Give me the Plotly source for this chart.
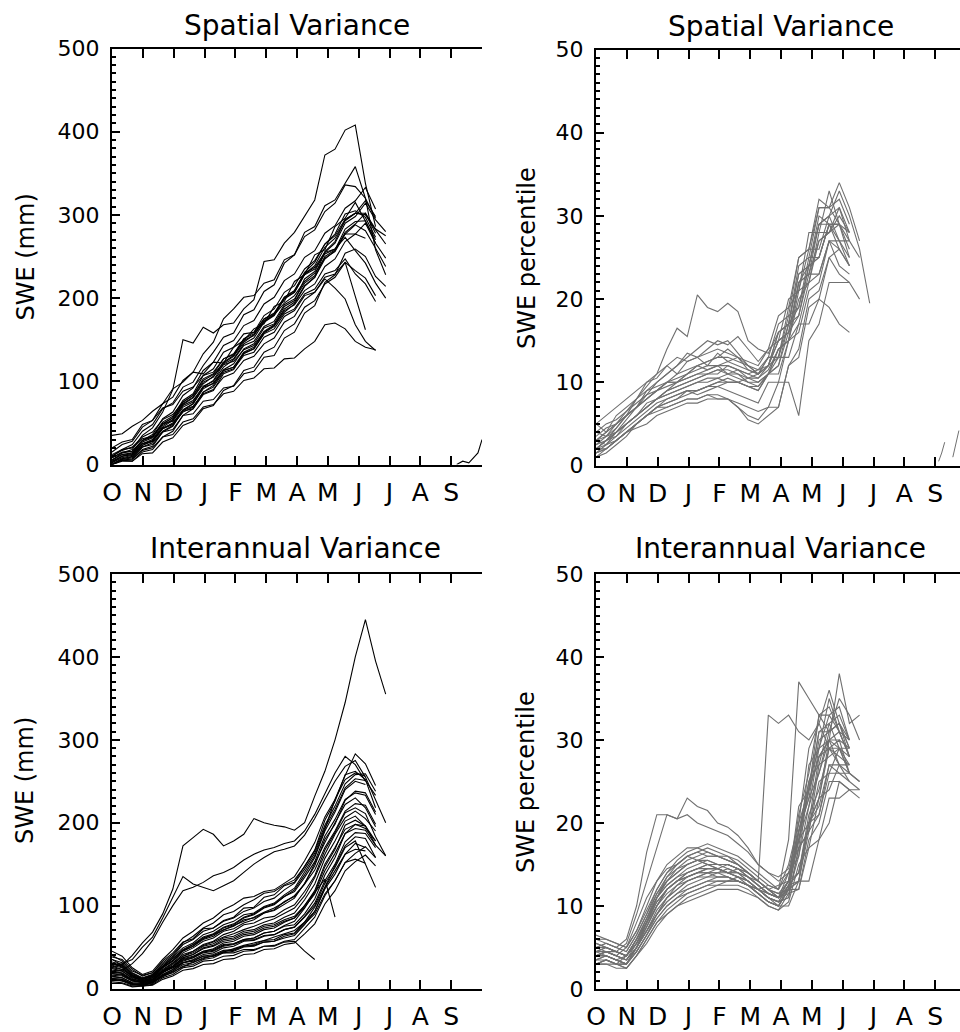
import plotly.graph_objects as go

FONT = "DejaVu Sans"
MONTHS = ["O", "N", "D", "J", "F", "M", "A", "M", "J", "J", "A", "S"]
DAYS = [0, 10, 20, 30, 40, 50, 60, 70, 80, 90, 100, 110, 120, 130, 140, 150,
        160, 170, 180, 190, 200, 210, 220, 230, 240, 250, 260, 270, 280, 290]

# ---- Top-left: spatial variance, SWE (mm) ----
SPATIAL_SWE = [
    [5, 14, 18, 35, 44, 63, 90, 150, 146, 165, 158, 168, 170, 187, 198, 244, 246, 266, 279, 299, 318, 372, 379, 402, 408, 338, 286],
    [10, 18, 24, 40, 48, 67, 74, 93, 99, 119, 135, 153, 158, 180, 186, 208, 216, 242, 252, 279, 286, 311, 318, 338, 358, 320, 258, 228],
    [35, 37, 46, 53, 64, 73, 91, 99, 111, 109, 123, 122, 141, 149, 163, 169, 190, 196, 220, 228, 252, 258, 286, 296, 315, 292, 270],
    [15, 24, 28, 45, 53, 73, 81, 101, 111, 133, 147, 175, 187, 201, 203, 218, 222, 246, 252, 274, 282, 304, 314, 336, 334, 320, 296],
    [3, 10, 12, 25, 28, 44, 49, 66, 73, 91, 98, 114, 121, 139, 145, 164, 169, 190, 197, 223, 232, 256, 268, 294, 302, 300, 282, 265],
    [0, 7, 9, 21, 26, 40, 47, 64, 67, 84, 89, 109, 114, 134, 139, 158, 166, 183, 193, 214, 225, 250, 258, 283, 292, 293, 266],
    [8, 15, 16, 29, 33, 49, 52, 69, 75, 94, 100, 117, 126, 143, 148, 166, 172, 192, 199, 218, 227, 255, 266, 290, 298, 314, 294, 280],
    [2, 8, 11, 23, 29, 45, 53, 72, 80, 97, 106, 120, 124, 138, 143, 160, 168, 185, 192, 209, 217, 238, 247, 268, 277, 290, 266, 248],
    [0, 5, 7, 18, 22, 39, 42, 59, 61, 76, 78, 92, 94, 109, 112, 129, 131, 152, 159, 182, 191, 219, 228, 254, 259, 250, 226, 214],
    [10, 17, 21, 33, 39, 54, 60, 75, 83, 101, 108, 122, 130, 147, 156, 172, 180, 194, 203, 220, 230, 248, 256, 277, 288, 281, 260, 238],
    [0, 5, 6, 17, 20, 33, 36, 51, 55, 69, 72, 85, 88, 101, 104, 115, 116, 127, 128, 139, 148, 168, 170, 163, 148, 141, 138],
    [5, 12, 13, 25, 28, 43, 50, 65, 70, 85, 90, 105, 110, 125, 130, 145, 152, 171, 178, 198, 207, 223, 212, 199, 168, 148, 137],
    [0, 6, 8, 21, 24, 39, 46, 65, 73, 93, 101, 121, 127, 145, 152, 171, 179, 199, 207, 229, 239, 261, 272, 293, 302, 302, 278],
    [6, 12, 14, 27, 32, 49, 56, 75, 83, 103, 109, 127, 133, 151, 157, 175, 182, 201, 209, 229, 237, 255, 259, 273, 257, 242, 218, 200],
    [0, 4, 4, 15, 18, 33, 40, 59, 67, 87, 95, 113, 117, 135, 141, 159, 167, 187, 195, 215, 225, 247, 257, 279, 289, 302, 283, 275],
    [12, 18, 20, 31, 34, 49, 56, 73, 81, 99, 105, 123, 131, 151, 159, 179, 187, 207, 215, 235, 245, 265, 275, 295, 302, 317, 298],
    [4, 10, 12, 25, 30, 47, 54, 71, 77, 93, 97, 113, 117, 133, 139, 157, 163, 181, 187, 205, 211, 229, 233, 247, 229, 217, 196],
    [0, 7, 10, 23, 28, 43, 48, 63, 69, 87, 93, 111, 115, 131, 135, 153, 159, 178, 185, 203, 207, 225, 229, 243, 202, 162],
    [2, 10, 14, 29, 36, 55, 63, 83, 92, 113, 123, 143, 149, 167, 173, 193, 201, 221, 229, 249, 257, 278, 287, 308, 317, 333, 307],
    [8, 14, 16, 29, 34, 51, 58, 77, 85, 107, 115, 135, 141, 157, 159, 175, 181, 201, 209, 231, 243, 265, 277, 301, 305, 297, 273],
    [20, 27, 30, 48, 53, 68, 72, 88, 93, 107, 111, 127, 132, 149, 155, 173, 180, 200, 207, 228, 235, 253, 259, 277, 277, 272],
    [0, 5, 4, 13, 14, 27, 32, 47, 52, 67, 71, 89, 95, 113, 117, 135, 141, 161, 169, 189, 197, 217, 225, 243, 233, 224, 203],
]
SEPT_TL_DAYS = [340, 346, 352, 357, 361, 365]
SEPT_TL_SWE = [0, 4, 2, 9, 14, 30]

# ---- Top-right: spatial variance, SWE percentile ----
SPATIAL_PCT = [
    [3, 4, 5, 6, 8, 9.5, 11, 14, 16.5, 15.5, 20.5, 19, 18.5, 19.5, 18.5, 15, 14, 13.5, 16, 17, 23, 24, 30, 29, 29, 25],
    [2, 3, 4.5, 6, 7, 8.5, 10, 11, 12, 13.5, 13, 14, 15, 14.5, 15.5, 14, 12.5, 14, 15, 20, 21, 28, 28, 33, 29, 27],
    [5, 4, 6, 7, 8, 10, 10.5, 12, 11, 12.5, 13, 12, 13.5, 12.5, 13, 12, 11, 12, 15, 16, 22, 24, 29, 30, 33, 30, 26, 19.5],
    [1.5, 2, 3, 4, 5, 6, 7, 7.5, 8, 9, 8.5, 9, 9.5, 10, 10, 10.5, 11, 12, 13, 18, 19, 25, 25, 29, 26, 24],
    [2, 3, 3.5, 5, 6, 7.5, 8, 9, 9.5, 10, 10.5, 11, 11, 12, 11.5, 11, 11.5, 12, 15, 16, 22, 23, 27, 28, 29],
    [1, 2, 3, 4, 5, 6, 6.5, 7, 7.5, 8, 8, 8.5, 8, 8, 7, 5.5, 5, 6, 7, 12, 13, 19, 20, 25, 26, 24],
    [3, 2.5, 4, 5.5, 7, 8, 9, 10, 10.5, 11, 12, 11.5, 12, 11, 11.5, 10.5, 10, 11, 14, 15, 20, 22, 27, 28, 31, 28],
    [2, 3, 4, 5, 6, 7, 8, 8.5, 9, 9.5, 10, 10, 10.5, 10, 10, 9.5, 9, 11, 11, 15, 16, 21, 22, 27, 27, 27, 25],
    [4, 3.5, 5, 6, 7, 9, 10, 11, 12, 13, 14, 15, 14.5, 15, 13.5, 12, 11, 12, 16, 17, 23, 24, 29, 30, 31, 27],
    [1.5, 2.5, 3, 4, 4.5, 5, 6, 6.5, 7, 7.5, 7.5, 8, 8, 8, 7.5, 7, 6.5, 7, 10, 10, 6, 15, 17, 22, 22, 22, 20],
    [3, 4, 5, 6.5, 8, 9, 9.5, 10, 10, 11, 11.5, 12, 12, 12.5, 12, 11.5, 11, 13, 17, 18, 25, 26, 32, 31, 32, 29],
    [2, 2.5, 3.5, 4.5, 5.5, 6.5, 7.5, 8, 8.5, 9, 9, 9.5, 9.5, 9, 8.5, 8, 7.5, 10, 10, 15, 17, 22, 23, 27, 26],
    [5, 6, 7, 8, 9, 10, 11, 12, 13, 12.5, 13, 13.5, 14, 13.5, 13, 12.5, 12, 14, 18, 19, 25, 26, 31, 31, 29, 26],
    [1, 1.5, 2.5, 3.5, 5, 6, 7, 7.5, 8, 8.5, 9, 9.5, 10, 10.5, 10, 9.5, 9, 11, 12, 17, 18, 23, 23, 27, 24, 23],
    [2.5, 3, 4, 5, 6, 7, 8, 9, 9.5, 10, 10.5, 11, 11.5, 11.5, 11, 10, 9.5, 11, 14, 15, 21, 22, 28, 28, 30, 28],
    [3.5, 4.5, 5, 6, 7, 8, 9, 10, 11, 11.5, 12, 12.5, 13, 13, 12.5, 12, 11.5, 13, 13, 17, 19, 24, 25, 29, 27, 24],
    [2, 3, 4, 5, 6, 7, 8, 8.5, 9, 9.5, 10, 10.5, 10.5, 11, 10.5, 10, 10, 11, 13, 13, 17, 17, 20, 19, 17, 16],
    [1.5, 2, 3, 4, 5, 6, 7, 8, 8.5, 9, 9, 9.5, 10, 10, 10, 9.5, 9.5, 11, 12, 16, 18, 24, 25, 29, 29, 28],
    [4, 5, 5.5, 6.5, 7.5, 8.5, 9, 9.5, 10, 10.5, 11, 11, 11.5, 11, 11, 10.5, 10.5, 12, 16, 17, 24, 25, 31, 31, 34, 31, 27],
    [2, 2, 3, 4, 5, 6, 7, 7, 7.5, 8, 8, 8.5, 8.5, 8, 7, 6, 5.5, 7, 7, 12, 14, 20, 21, 25, 23, 22],
    [3, 3.5, 4, 5, 6, 7, 8, 9, 10, 10.5, 11, 11.5, 12, 12, 11.5, 11, 10.5, 11.5, 14, 15, 22, 23, 29, 29, 29],
    [2.5, 3.5, 4.5, 6, 7, 8, 9, 10, 10, 11, 12, 12.5, 13, 14, 13, 11.5, 11, 13, 13, 19, 21, 26, 26, 30, 27, 25],
]
SEPT_TR_DAYS_A = [338, 341, 344]
SEPT_TR_PCT_A = [0.5, 1.5, 2.8]
SEPT_TR_DAYS_B = [352, 355, 358]
SEPT_TR_PCT_B = [1, 2.5, 4.2]

# ---- Bottom-left: interannual variance, SWE (mm) ----
INTERANNUAL_SWE = [
    [30, 28, 40, 55, 68, 90, 120, 172, 182, 192, 186, 172, 178, 186, 205, 200, 197, 195, 191, 200, 232, 262, 300, 345, 400, 445, 395, 355],
    [25, 30, 35, 50, 62, 85, 110, 135, 126, 122, 118, 124, 130, 140, 150, 158, 165, 168, 172, 185, 205, 228, 250, 268, 275, 255, 228, 200],
    [20, 22, 30, 42, 58, 80, 100, 118, 122, 128, 136, 140, 146, 155, 162, 167, 170, 175, 178, 190, 210, 235, 260, 280, 270, 250],
    [40, 33, 21, 16, 19, 33, 43, 56, 60, 72, 73, 82, 86, 97, 98, 110, 113, 124, 128, 148, 167, 203, 226, 258, 262, 252, 218],
    [15, 13, 7, 6, 9, 19, 27, 36, 39, 45, 47, 53, 54, 59, 61, 67, 69, 75, 77, 90, 108, 137, 158, 187, 198, 196, 173],
    [10, 9, 4, 5, 7, 16, 21, 31, 34, 39, 41, 46, 47, 51, 52, 56, 57, 61, 64, 77, 93, 122, 148, 172, 183, 181, 158],
    [20, 19, 11, 9, 11, 21, 25, 31, 33, 39, 39, 43, 43, 47, 47, 51, 51, 56, 57, 45, 35],
    [30, 26, 14, 11, 15, 26, 34, 46, 51, 59, 63, 71, 75, 83, 85, 91, 94, 101, 109, 127, 148, 180, 198, 227, 238, 236, 213],
    [12, 11, 5, 4, 6, 15, 21, 29, 31, 37, 39, 45, 46, 51, 53, 58, 59, 65, 67, 80, 93, 120, 138, 162, 168, 166],
    [35, 31, 19, 13, 17, 29, 39, 53, 59, 69, 73, 81, 85, 93, 97, 105, 109, 119, 127, 144, 163, 194, 216, 242, 253, 251, 233],
    [18, 16, 9, 7, 10, 21, 29, 39, 43, 51, 54, 61, 63, 69, 71, 77, 79, 86, 91, 107, 126, 157, 178, 202, 208, 196],
    [25, 23, 14, 9, 13, 25, 33, 43, 49, 57, 61, 69, 72, 79, 83, 91, 95, 105, 111, 126, 143, 170, 190, 214, 223, 221, 198],
    [8, 7, 3, 3, 5, 13, 17, 25, 27, 33, 34, 39, 40, 45, 46, 51, 52, 57, 59, 72, 86, 112, 130, 152, 163, 171, 158],
    [22, 21, 13, 10, 13, 23, 31, 41, 45, 53, 57, 65, 69, 77, 79, 85, 87, 95, 101, 117, 136, 167, 188, 212, 218, 211, 183, 160],
    [28, 25, 15, 11, 14, 25, 33, 45, 51, 61, 65, 73, 77, 85, 89, 97, 101, 111, 119, 137, 158, 190, 213, 240, 250, 246],
    [14, 13, 7, 6, 8, 17, 23, 33, 37, 43, 45, 51, 53, 58, 59, 64, 65, 71, 74, 86, 100, 127, 146, 170, 178, 150, 122],
    [32, 29, 17, 12, 16, 27, 37, 49, 55, 65, 69, 77, 81, 89, 91, 99, 103, 113, 121, 140, 160, 192, 228, 257, 283, 271, 245],
    [10, 10, 5, 4, 7, 15, 19, 27, 29, 35, 37, 43, 45, 50, 51, 56, 57, 63, 66, 78, 90, 114, 130, 152, 156, 151],
    [38, 35, 23, 15, 19, 31, 41, 55, 63, 73, 79, 89, 93, 101, 107, 115, 117, 125, 131, 147, 166, 197, 220, 247, 258, 259, 238],
    [16, 15, 9, 8, 11, 21, 27, 37, 41, 48, 51, 57, 59, 65, 67, 73, 75, 81, 85, 98, 114, 142, 163, 187, 193, 191, 173, 160],
    [24, 21, 12, 8, 11, 21, 27, 37, 41, 49, 52, 59, 61, 67, 69, 75, 77, 83, 87, 100, 116, 132, 86],
    [12, 11, 6, 5, 8, 17, 23, 31, 35, 41, 43, 49, 51, 57, 58, 63, 65, 71, 74, 87, 103, 130, 150, 177, 188, 187, 170],
    [45, 39, 25, 17, 21, 35, 47, 61, 69, 79, 85, 95, 101, 109, 111, 117, 119, 127, 135, 154, 176, 207, 228, 252, 260, 256],
    [20, 18, 10, 7, 9, 19, 25, 34, 37, 44, 46, 52, 54, 59, 61, 67, 69, 76, 81, 97, 116, 147, 168, 197, 203, 196, 178],
    [6, 6, 2, 3, 4, 11, 15, 22, 24, 29, 30, 35, 36, 41, 42, 47, 48, 53, 55, 66, 78, 102, 118, 142, 153, 161, 148],
    [30, 27, 16, 11, 15, 27, 36, 47, 53, 62, 66, 74, 78, 86, 90, 98, 102, 111, 117, 134, 153, 184, 204, 228, 236, 233, 210],
    [18, 17, 10, 8, 11, 20, 26, 35, 38, 45, 48, 55, 57, 63, 65, 71, 73, 80, 85, 100, 118, 150, 170, 192, 198, 193, 178],
    [27, 23, 16, 9, 13, 22, 30, 39, 45, 52, 56, 62, 66, 71, 75, 80, 84, 90, 97, 112, 134, 162, 186, 206, 214, 205, 190],
    [12, 9, 6, 3, 8, 14, 20, 27, 32, 36, 40, 44, 48, 52, 55, 58, 62, 66, 70, 80, 98, 122, 142, 162, 175, 170],
    [35, 28, 18, 12, 17, 27, 36, 46, 53, 60, 65, 71, 76, 81, 86, 92, 97, 104, 112, 126, 150, 176, 200, 222, 230, 218, 195],
]

# ---- Bottom-right: interannual variance, SWE percentile ----
INTERANNUAL_PCT = [
    [5, 5.5, 5, 6, 10, 16.5, 21, 21, 20.5, 23, 22, 21.5, 20, 19.5, 18.5, 17, 15, 14, 13, 14, 18, 24, 28, 30, 29, 27],
    [4, 4.5, 4, 5, 8, 11, 13, 14.5, 15, 16, 15.5, 15, 14.5, 14, 14.5, 13.5, 13, 33, 32, 33, 31, 30, 32, 29, 27],
    [4.5, 5, 4.5, 5.5, 9, 13, 17, 21, 20.5, 21, 20, 19.5, 19, 18.5, 17.5, 16.5, 15, 14, 13.5, 14.5, 19, 25, 29, 33, 31, 28],
    [3.5, 4, 3.5, 4, 6, 8, 11, 13, 14, 15, 15.5, 15, 14.5, 14, 13.5, 12.5, 12, 12.5, 12, 18, 37, 35, 33, 34, 31, 28],
    [3, 3.5, 3, 4, 5.5, 8, 10, 12, 13, 13.5, 14, 14.5, 14.5, 14, 13.5, 13, 12, 11.5, 11, 13, 18, 24, 28, 30, 38, 32, 33],
    [4, 4.5, 4, 3.5, 5, 7, 9.5, 11, 12, 13, 13.5, 14, 14, 14.5, 14, 13.5, 12.5, 11.5, 11, 12, 18, 20, 28, 29, 30, 26],
    [5, 5, 4.5, 4, 6, 8.5, 11, 12.5, 13.5, 14.5, 15, 15.5, 15, 15, 14.5, 14, 13, 12, 12.5, 13, 22, 24, 33, 31, 32, 29],
    [3, 3.5, 3, 2.5, 4, 6, 8, 9.5, 10.5, 11.5, 12, 12.5, 13, 13, 13.5, 13, 12, 11, 10, 12.5, 14, 21, 24, 29, 28, 27],
    [6, 5.5, 5, 4.5, 6.5, 9, 12, 14, 15, 16, 16.5, 16, 16, 15.5, 15, 14, 13, 12, 11, 14, 16, 25, 27, 32, 29, 28],
    [4.5, 4, 3.5, 3, 5, 7.5, 10, 12, 13, 14, 14.5, 15, 15, 14.5, 14, 13, 12, 11, 10.5, 11, 17, 19, 27, 28, 29, 26],
    [5.5, 5, 4.5, 4, 6, 8, 10.5, 12, 13, 13.5, 14, 14, 13.5, 13.5, 13, 12.5, 11.5, 10.5, 10, 12, 13, 20, 22, 27, 26, 25, 24],
    [3.5, 4, 3.5, 3, 5, 7, 9, 10.5, 11.5, 12.5, 13, 13.5, 14, 14, 14, 13.5, 12.5, 11.5, 11, 12.5, 20, 24, 31, 31, 32, 28],
    [4, 4, 3.5, 3, 4.5, 6.5, 8.5, 10, 11, 11.5, 12, 12.5, 12.5, 13, 13, 12.5, 11.5, 10.5, 10, 12, 12, 17, 18, 23, 23, 24, 24],
    [5, 4.5, 4, 3.5, 5.5, 8, 11, 13, 14.5, 15.5, 16, 16.5, 16, 16, 15.5, 14.5, 13.5, 12.5, 12, 15, 20, 29, 32, 36, 32, 30],
    [4.5, 5, 4.5, 4, 6, 8.5, 11, 12.5, 13.5, 14, 14.5, 14.5, 14.5, 14, 13.5, 13, 12, 11, 10.5, 11, 17, 19, 25, 26, 29, 26, 25],
    [3, 3, 2.5, 2.5, 4, 6, 8, 9, 10, 10.5, 11, 11.5, 12, 12, 12, 11.5, 11, 10, 9.5, 11.5, 12, 18, 20, 25, 25, 24],
    [6, 6, 5.5, 5, 7, 10, 13, 15, 16, 17, 17, 16.5, 16, 15.5, 15, 14, 13, 12, 11.5, 12, 19, 23, 30, 31, 32, 29],
    [4, 4, 3.5, 3, 5, 7, 9, 11, 12, 13, 13.5, 14, 14.5, 15, 14.5, 14, 13, 12, 11, 13, 14, 20, 21, 26, 26, 26],
    [5, 5.5, 5, 4.5, 6.5, 9, 11.5, 13.5, 14.5, 15, 15.5, 16, 16, 15.5, 15, 14, 13, 12, 11.5, 13, 21, 26, 33, 33, 34, 30],
    [3.5, 3.5, 3, 3, 4.5, 6.5, 8.5, 10, 11, 12, 12.5, 13, 13.5, 13.5, 13, 12.5, 12, 11, 10.5, 12.5, 13, 19, 21, 27, 27, 27],
    [4.5, 4.5, 4, 3.5, 5, 7.5, 10, 12, 13, 14, 14.5, 15, 15, 15, 14.5, 13.5, 12.5, 11.5, 11, 12, 18, 22, 29, 30, 31, 28],
    [5, 5, 4.5, 4, 5.5, 8, 10.5, 12, 13, 13.5, 14, 14.5, 14.5, 14, 14, 13, 12, 11, 10.5, 12.5, 14, 20, 23, 30, 30, 29],
    [4, 4.5, 4, 3.5, 5, 7, 9, 11, 12.5, 13.5, 14, 14, 14, 13.5, 13, 12.5, 11.5, 10.5, 10, 10, 13, 13, 18, 20, 25, 24, 23],
    [5.5, 5, 4.5, 4, 6, 8.5, 11.5, 13, 14, 15, 15.5, 15.5, 15, 15, 14.5, 13.5, 12.5, 11.5, 11, 12, 19, 24, 31, 32, 33, 30],
    [3, 3.5, 3, 3, 4.5, 6.5, 9, 10.5, 11.5, 12, 12.5, 13, 13, 13, 13, 12.5, 11.5, 10.5, 10, 12, 13, 20, 23, 29, 29, 29],
    [4, 4, 3.5, 3, 5, 8, 11, 13.5, 15, 16, 16.5, 17, 16.5, 16, 15, 14, 13, 12, 11, 11.5, 16, 22, 26, 31, 35, 33, 30],
    [3, 3, 3, 2.5, 4, 5.5, 7.5, 9, 10, 11, 11.5, 12, 12.5, 12.5, 12.5, 12, 11, 10, 9.5, 10.5, 15, 17, 23, 24, 27, 25],
    [6.5, 6, 5.5, 5, 7, 9.5, 12, 14, 15.5, 16.5, 17, 17.5, 17, 16.5, 16, 15, 14, 13, 12, 14, 17, 27, 29, 35, 31, 30],
    [4, 4.5, 4.5, 4, 5.5, 7.5, 10, 11.5, 12.5, 13, 13.5, 13.5, 13.5, 13.5, 13, 12.5, 12, 11.5, 11, 13, 19, 23, 26, 30, 27, 26, 25],
]

MONTH_TICKS = [i * 365 / 12 for i in range(12)]
BLACK = "black"
GRAY = "#707070"


def joined(lines, days):
    xs, ys = [], []
    for ln in lines:
        xs += days[:len(ln)] + [None]
        ys += list(ln) + [None]
    return xs, ys


fig = go.Figure()

panels = [
    (SPATIAL_SWE, "x", "y", BLACK),
    (SPATIAL_PCT, "x2", "y2", GRAY),
    (INTERANNUAL_SWE, "x3", "y3", BLACK),
    (INTERANNUAL_PCT, "x4", "y4", GRAY),
]
for lines, xa, ya, col in panels:
    xs, ys = joined(lines, DAYS)
    fig.add_trace(go.Scatter(x=xs, y=ys, mode="lines", xaxis=xa, yaxis=ya,
                             line=dict(color=col, width=1.1), showlegend=False,
                             hoverinfo="skip"))

fig.add_trace(go.Scatter(x=SEPT_TL_DAYS, y=SEPT_TL_SWE, mode="lines", xaxis="x", yaxis="y",
                         line=dict(color=BLACK, width=1.1), showlegend=False))
fig.add_trace(go.Scatter(x=SEPT_TR_DAYS_A, y=SEPT_TR_PCT_A, mode="lines", xaxis="x2", yaxis="y2",
                         line=dict(color=GRAY, width=1), showlegend=False))
fig.add_trace(go.Scatter(x=SEPT_TR_DAYS_B, y=SEPT_TR_PCT_B, mode="lines", xaxis="x2", yaxis="y2",
                         line=dict(color=GRAY, width=1), showlegend=False))

W, H = 960, 1032
LX = [112 / W, 482 / W]
RX = [596 / W, 1.0]
TOPL = [1 - 464.5 / H, 1 - 48.5 / H]
TOPR = [1 - 465.5 / H, 1 - 49.5 / H]
BOTL = [1 - 988.5 / H, 1 - 574 / H]
BOTR = [1 - 989 / H, 1 - 574 / H]


def xax(domain, rng, anchor):
    return dict(domain=domain, range=rng, anchor=anchor, tickvals=MONTH_TICKS, ticktext=MONTHS,
                ticks="inside", ticklen=9, tickwidth=2, tickcolor=BLACK, automargin=False,
                showline=True, linecolor=BLACK, linewidth=2, mirror="ticks",
                showgrid=False, zeroline=False, ticklabelstandoff=4,
                tickfont=dict(family=FONT, size=25, color=BLACK))


def yax(domain, rng, dt, mdt, anchor):
    return dict(domain=domain, range=rng, anchor=anchor, automargin=False,
                tickvals=[i * dt for i in range(6)],
                ticks="inside", ticklen=8, tickwidth=2, tickcolor=BLACK,
                minor=dict(dtick=mdt, ticks="inside", ticklen=4, tickwidth=1.5, tickcolor=BLACK, showgrid=False),
                showline=True, linecolor=BLACK, linewidth=2,
                showgrid=False, zeroline=False, ticklabelstandoff=6,
                tickfont=dict(family=FONT, size=22, color=BLACK))


def yright(over, rng, dt, mdt, anchor):
    return dict(overlaying=over, side="right", anchor=anchor, range=rng, automargin=False,
                tickvals=[i * dt for i in range(6)], showticklabels=False,
                ticks="inside", ticklen=8, tickwidth=2, tickcolor=BLACK,
                minor=dict(dtick=mdt, ticks="inside", ticklen=4, tickwidth=1.5, tickcolor=BLACK, showgrid=False),
                showline=False, showgrid=False, zeroline=False)


RIGHT_RANGE = [0, 364 / 370 * 365]

fig.update_layout(
    width=W, height=H, margin=dict(l=0, r=0, t=0, b=0, autoexpand=False),
    paper_bgcolor="white", plot_bgcolor="white", showlegend=False,
    xaxis=xax(LX, [0, 365], "y"),
    xaxis2=xax(RX, RIGHT_RANGE, "y2"),
    xaxis3=xax(LX, [0, 365], "y3"),
    xaxis4=xax(RX, RIGHT_RANGE, "y4"),
    yaxis=yax(TOPL, [0, 500], 100, 10, "x"),
    yaxis2=yax(TOPR, [0, 50], 10, 1, "x2"),
    yaxis3=yax(BOTL, [0, 500], 100, 10, "x3"),
    yaxis4=yax(BOTR, [0, 50], 10, 1, "x4"),
    yaxis5=yright("y", [0, 500], 100, 10, "x"),
    yaxis6=yright("y2", [0, 50], 10, 1, "x2"),
    yaxis7=yright("y3", [0, 500], 100, 10, "x3"),
    yaxis8=yright("y4", [0, 50], 10, 1, "x4"),
)

ann = []
for text, cx, cy in [("Spatial Variance", 296.5, 25), ("Spatial Variance", 781, 26),
                     ("Interannual Variance", 295.5, 548), ("Interannual Variance", 780, 548)]:
    ann.append(dict(text=text, x=cx / W, y=1 - cy / H, xref="paper", yref="paper",
                    xanchor="center", yanchor="middle", showarrow=False,
                    font=dict(family=FONT, size=28, color=BLACK)))
for text, cx, cy in [("SWE (mm)", 25, 257.5), ("SWE percentile", 527, 258),
                     ("SWE (mm)", 25, 781), ("SWE percentile", 526, 782)]:
    ann.append(dict(text=text, x=cx / W, y=1 - cy / H, xref="paper", yref="paper",
                    xanchor="center", yanchor="middle", showarrow=False, textangle=-90,
                    font=dict(family=FONT, size=24, color=BLACK)))
fig.update_layout(annotations=ann)

fig.write_html("out.html")
